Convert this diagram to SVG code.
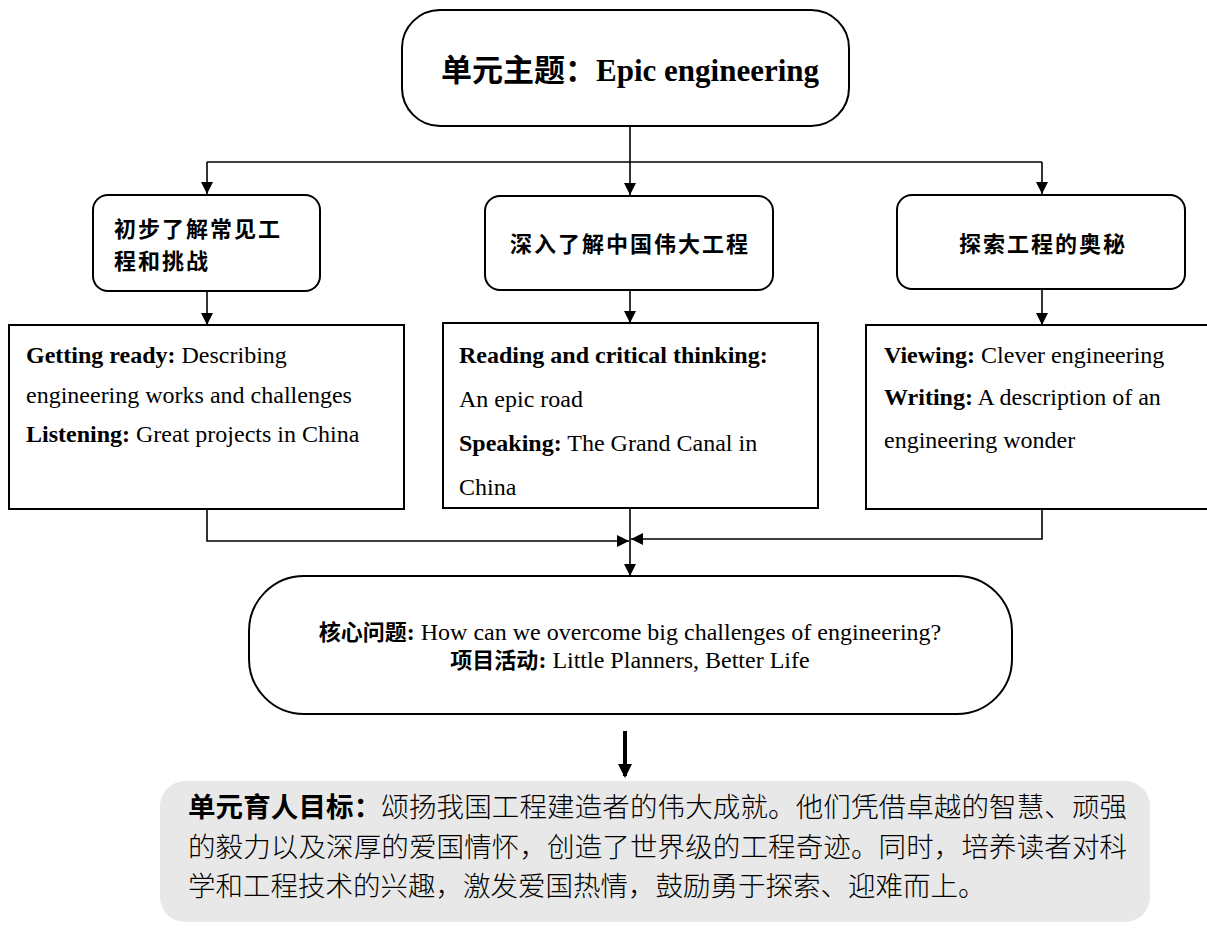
<svg xmlns="http://www.w3.org/2000/svg" width="1207" height="928" viewBox="0 0 1207 928">
<style>
.box{fill:#fff;stroke:#000;stroke-width:2}
.cn{font-family:"Noto Sans CJK SC",sans-serif}
.en{font-family:"Liberation Serif","Noto Sans CJK SC",serif;font-size:24px}
.b{font-weight:bold}
.conn{fill:none;stroke:#000;stroke-width:1.6}
.mid{font-family:"Noto Sans CJK SC",sans-serif;font-size:22px;font-weight:bold;letter-spacing:2px}
.goal{font-family:"Noto Sans CJK SC",sans-serif;font-size:27.5px;font-weight:300}
</style>
<defs>
<marker id="ah" markerUnits="userSpaceOnUse" markerWidth="12" markerHeight="12" refX="12" refY="6" orient="auto">
<path d="M0,0 L12,6 L0,12 Z" fill="#000"/>
</marker>
<marker id="ahb" markerUnits="userSpaceOnUse" markerWidth="14" markerHeight="14" refX="12" refY="7" orient="auto">
<path d="M0,0 L14,7 L0,14 Z" fill="#000"/>
</marker>
</defs>

<g id="connectors">
<line class="conn" x1="630" y1="126" x2="630" y2="195" marker-end="url(#ah)"/>
<path class="conn" d="M207,162 H1042"/>
<line class="conn" x1="207" y1="162" x2="207" y2="194" marker-end="url(#ah)"/>
<line class="conn" x1="1042" y1="162" x2="1042" y2="194" marker-end="url(#ah)"/>
<line class="conn" x1="207" y1="291" x2="207" y2="325" marker-end="url(#ah)"/>
<line class="conn" x1="630" y1="290" x2="630" y2="323" marker-end="url(#ah)"/>
<line class="conn" x1="1042" y1="289" x2="1042" y2="325" marker-end="url(#ah)"/>
<path class="conn" d="M207,509 V541 H629" marker-end="url(#ah)"/>
<path class="conn" d="M1042,509 V539 H631" marker-end="url(#ah)"/>
<line class="conn" x1="630" y1="508" x2="630" y2="576" marker-end="url(#ah)"/>
<line x1="625" y1="731" x2="625" y2="776" stroke="#000" stroke-width="4" marker-end="url(#ahb)"/>
</g>

<g id="node-theme">
<rect class="box" x="402" y="10" width="447" height="116" rx="38" ry="38"/>
<text x="630" y="81" text-anchor="middle" font-size="31"><tspan class="cn b">单元主题：</tspan><tspan font-family="Liberation Serif, serif" font-weight="bold">Epic engineering</tspan></text>
</g>

<g id="node-step1">
<rect class="box" x="93" y="195" width="227" height="96" rx="15" ry="15"/>
<text class="mid" x="114" y="237">初步了解常见工</text>
<text class="mid" x="114" y="269">程和挑战</text>
</g>

<g id="node-step2">
<rect class="box" x="485" y="196" width="288" height="94" rx="15" ry="15"/>
<text class="mid" x="630" y="252" text-anchor="middle">深入了解中国伟大工程</text>
</g>

<g id="node-step3">
<rect class="box" x="897" y="195" width="288" height="94" rx="15" ry="15"/>
<text class="mid" x="1043" y="252" text-anchor="middle">探索工程的奥秘</text>
</g>

<g id="node-content1">
<rect class="box" x="9" y="325" width="395" height="184"/>
<text class="en" x="26" y="363"><tspan class="b">Getting ready:</tspan> Describing</text>
<text class="en" x="26" y="403">engineering works and challenges</text>
<text class="en" x="26" y="442"><tspan class="b">Listening:</tspan> Great projects in China</text>
</g>

<g id="node-content2">
<rect class="box" x="443" y="323" width="375" height="185"/>
<text class="en b" x="459" y="363">Reading and critical thinking:</text>
<text class="en" x="459" y="407">An epic road</text>
<text class="en" x="459" y="451"><tspan class="b">Speaking:</tspan>  The Grand Canal in</text>
<text class="en" x="459" y="495">China</text>
</g>

<g id="node-content3">
<rect class="box" x="866" y="325" width="345" height="184"/>
<text class="en" x="884" y="363"><tspan class="b">Viewing:</tspan> Clever engineering</text>
<text class="en" x="884" y="405"><tspan class="b">Writing:</tspan> A description of an</text>
<text class="en" x="884" y="448">engineering wonder</text>
</g>

<g id="node-core">
<rect class="box" x="249" y="576" width="763" height="138" rx="55" ry="55"/>
<text class="en" x="630" y="640" text-anchor="middle"><tspan class="cn b" font-size="22">核心问题</tspan><tspan class="b">:</tspan> How can we overcome big challenges of engineering?</text>
<text class="en" x="630" y="668" text-anchor="middle"><tspan class="cn b" font-size="22">项目活动</tspan><tspan class="b">:</tspan> Little Planners, Better Life</text>
</g>

<g id="node-goal">
<rect x="160" y="781" width="990" height="141" rx="25" ry="25" fill="#e8e8e8"/>
<text class="goal" x="188" y="817" textLength="939" lengthAdjust="spacing"><tspan font-weight="bold">单元育人目标：</tspan>颂扬我国工程建造者的伟大成就。他们凭借卓越的智慧、顽强</text>
<text class="goal" x="188" y="857" textLength="939" lengthAdjust="spacing">的毅力以及深厚的爱国情怀，创造了世界级的工程奇迹。同时，培养读者对科</text>
<text class="goal" x="188" y="896">学和工程技术的兴趣，激发爱国热情，鼓励勇于探索、迎难而上。</text>
</g>
</svg>
